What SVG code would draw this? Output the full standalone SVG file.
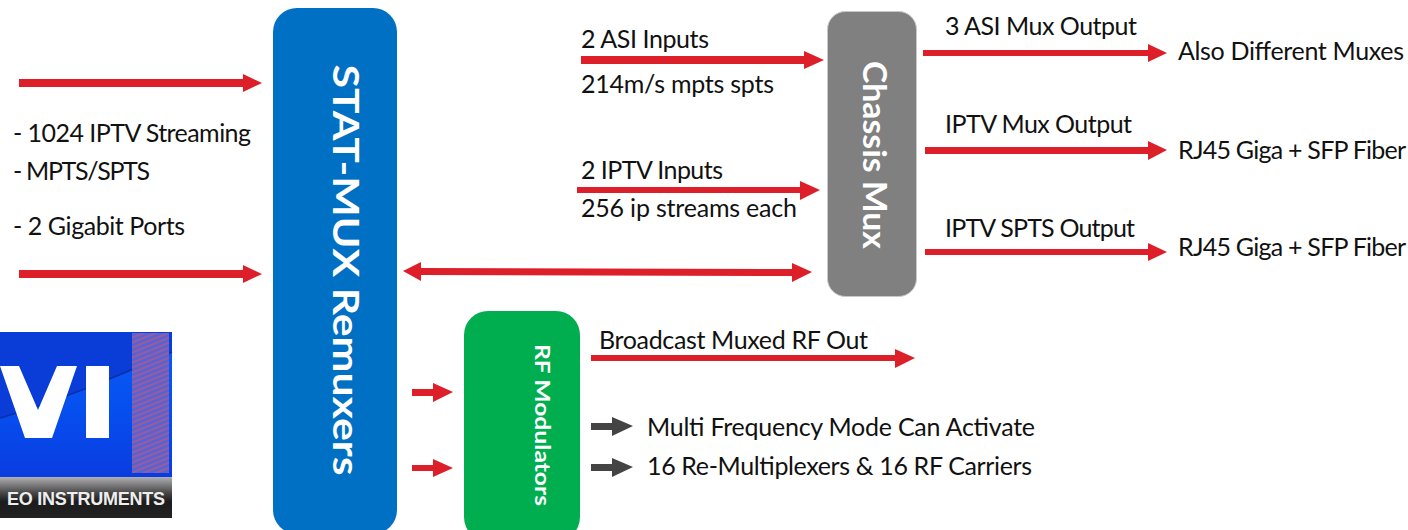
<svg xmlns="http://www.w3.org/2000/svg" width="1408" height="530" viewBox="0 0 1408 530">
<style>
text{font-family:Lato,"Open Sans","Liberation Sans",sans-serif;font-size:25px;fill:#111}
.w{fill:#fff;font-weight:700;text-anchor:middle}
.r{fill:#dd1f2a}
.g{fill:#444}
</style>
<defs>
<linearGradient id="lg" x1="0" y1="0" x2="0" y2="1"><stop offset="0" stop-color="#b0b0b4"/><stop offset=".4" stop-color="#444"/><stop offset=".6" stop-color="#1c1c1c"/><stop offset="1" stop-color="#222"/></linearGradient>
<linearGradient id="lb" x1="0" y1="0" x2="0" y2="1"><stop offset="0" stop-color="#0a5cf4"/><stop offset=".5" stop-color="#0650f0"/><stop offset="1" stop-color="#0a3ce0"/></linearGradient>
<pattern id="h" width="6" height="5" patternUnits="userSpaceOnUse" patternTransform="skewY(-22)"><rect width="6" height="5" fill="#5a62d0"/><rect width="6" height="2" fill="#9a5c9c"/></pattern>
</defs>
<g id="logo">
<rect x="0" y="332" width="172" height="146" fill="url(#lb)"/>
<path d="M0 418 Q70 398 172 352 V332 H0Z" fill="#0a3cd8"/>
<path d="M0 418 Q70 398 172 352" fill="none" stroke="#0a2fa8" stroke-width="1.5"/>
<rect x="132" y="333" width="37" height="140" fill="url(#h)"/>
<path d="M0 366H19L38 410 57 366H77L52 438H25L0 366Z" fill="#fff"/>
<rect x="86" y="366" width="23" height="72" fill="#fff"/>
<rect x="0" y="477" width="172" height="41" fill="url(#lg)"/>
<text x="7" y="505" textLength="158" style="font-family:'Liberation Sans',sans-serif;font-weight:700;font-size:18px;fill:#eee">EO INSTRUMENTS</text>
</g>
<g id="stat-mux">
<rect x="273" y="8" width="124" height="526" rx="24" fill="#0070c4"/>
<text class="w" transform="translate(345 270) rotate(90)" dy="12" style="font-size:36px" textLength="411" lengthAdjust="spacingAndGlyphs">STAT-MUX Remuxers</text>
</g>
<g id="chassis-mux">
<rect x="827.5" y="11.5" width="89" height="285" rx="18" fill="#808080" stroke="#c8c8c8"/>
<text class="w" transform="translate(874 155) rotate(90)" dy="11" style="font-size:32px" textLength="188" lengthAdjust="spacingAndGlyphs">Chassis Mux</text>
</g>
<g id="rf-modulators">
<rect x="464" y="311" width="116" height="230" rx="24" fill="#00ae50"/>
<text class="w" transform="translate(542 425) rotate(90)" dy="7" style="font-size:21px" textLength="162" lengthAdjust="spacingAndGlyphs">RF Modulators</text>
</g>
<g id="connectors">
<path class="r" d="M19 79H243V74L262 83 243 92V87H19Z"/>
<path class="r" d="M19 270H243V265L262 274 243 283V278H19Z"/>
<path class="r" d="M581 56H804V51L824 60 804 69V64H581Z"/>
<path class="r" d="M577 187H800V181L820 190 800 200V193H577Z"/>
<path class="r" d="M403 271L421 262V268L792 269V263L812 272 792 282V276L421 275V281Z"/>
<path class="r" d="M923 50H1148V44L1167 53 1148 62V56H923Z"/>
<path class="r" d="M925 147H1148V141L1167 150 1148 160V154H925Z"/>
<path class="r" d="M925 249H1148V243L1167 252 1148 261V255H925Z"/>
<path class="r" d="M591 355H895V349L915 358 895 368V361H591Z"/>
<path class="r" d="M412 389H433V383L453 392 433 402V396H412Z"/>
<path class="r" d="M412 465H433V459L453 468 433 477V471H412Z"/>
<path class="g" d="M591 423H612V417L633 426 612 436V430H591Z"/>
<path class="g" d="M591 464H612V458L633 467 612 477V471H591Z"/>
</g>
<g id="labels">
<text x="13" y="142" textLength="238">- 1024 IPTV Streaming</text>
<text x="13" y="180" textLength="137">- MPTS/SPTS</text>
<text x="13" y="235" textLength="172">- 2 Gigabit Ports</text>
<text x="581" y="48" textLength="128">2 ASI Inputs</text>
<text x="581" y="93" textLength="193">214m/s mpts spts</text>
<text x="581" y="179" textLength="142">2 IPTV Inputs</text>
<text x="581" y="217" textLength="216">256 ip streams each</text>
<text x="945" y="35" textLength="192">3 ASI Mux Output</text>
<text x="945" y="133" textLength="187">IPTV Mux Output</text>
<text x="945" y="237" textLength="190">IPTV SPTS Output</text>
<text x="1178" y="60" textLength="226">Also Different Muxes</text>
<text x="1178" y="159" textLength="228">RJ45 Giga + SFP Fiber</text>
<text x="1178" y="256" textLength="228">RJ45 Giga + SFP Fiber</text>
<text x="599" y="349" textLength="269">Broadcast Muxed RF Out</text>
<text x="647" y="436" textLength="388">Multi Frequency Mode Can Activate</text>
<text x="647" y="475" textLength="385">16 Re-Multiplexers &amp; 16 RF Carriers</text>
</g>
</svg>
